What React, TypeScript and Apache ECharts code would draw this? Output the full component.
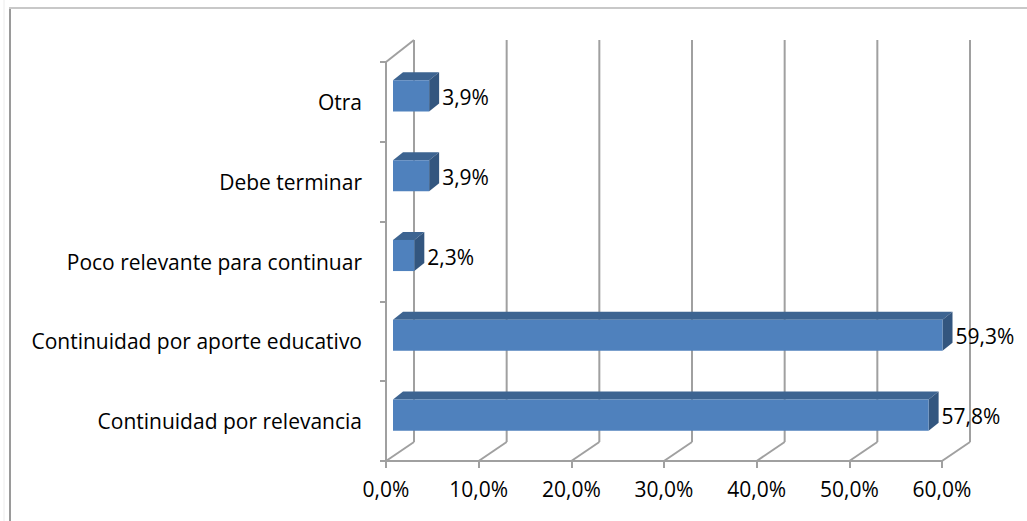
import React, { useEffect, useRef } from "react";
import * as echarts from "echarts";

const categories = [
  "Continuidad por relevancia",
  "Continuidad por aporte educativo",
  "Poco relevante para continuar",
  "Debe terminar",
  "Otra",
];
const values = [57.8, 59.3, 2.3, 3.9, 3.9];
const xTicks = [0, 10, 20, 30, 40, 50, 60];

const fmt = (v: number) => v.toFixed(1).replace(".", ",") + "%";

export default function App() {
  const ref = useRef<HTMLDivElement>(null);
  useEffect(() => {
    document.body.style.margin = "0";
    const chart = echarts.init(ref.current!, undefined, { renderer: "svg" });
    const FONT = "Open Sans";
    const FS = 21;
    const GRID = "#a0a0a0";
    const DX = 28;
    const DY_FLOOR = -19;
    const DY_TOP = -22;
    const BD = 10;
    const BDY = -8;

    chart.setOption({
      animation: false,
      backgroundColor: "#ffffff",
      grid: { left: 386, right: 85, top: 62, bottom: 60 },
      graphic: [
        { type: "line", shape: { x1: 4, y1: 0, x2: 4, y2: 521 }, style: { stroke: "#ececec", lineWidth: 1 } },
        { type: "line", shape: { x1: 10, y1: 7, x2: 10, y2: 521 }, style: { stroke: "#9a9a9a", lineWidth: 2 } },
        { type: "line", shape: { x1: 9, y1: 8, x2: 1027, y2: 8 }, style: { stroke: "#c8c8c8", lineWidth: 2 } },
      ],
      xAxis: {
        type: "value",
        min: 0,
        max: 60,
        interval: 10,
        axisLine: { show: true, lineStyle: { color: GRID, width: 2 } },
        axisTick: { show: true, length: 7, lineStyle: { color: GRID, width: 2 } },
        splitLine: { show: false },
        axisLabel: {
          formatter: (v: number) => fmt(v),
          color: "#000",
          fontSize: FS,
          fontFamily: FONT,
          margin: 17,
        },
      },
      yAxis: {
        type: "category",
        data: categories,
        axisLine: { show: true, lineStyle: { color: GRID, width: 2 } },
        axisTick: { show: true, length: 6, lineStyle: { color: GRID, width: 2 } },
        splitLine: { show: false },
        axisLabel: { color: "#000", fontSize: FS, fontFamily: FONT, margin: 24 },
      },
      series: [
        {
          type: "custom",
          silent: true,
          z: 1,
          encode: { x: 0, y: 1 },
          data: xTicks.map((v) => [v, 0]),
          renderItem: (params: any, api: any) => {
            const v = api.value(0);
            const cs = params.coordSys;
            const x = api.coord([v, 0])[0];
            const yb = cs.y + cs.height;
            const yt = cs.y;
            const st = { stroke: GRID, lineWidth: 2 };
            const children: any[] = [
              { type: "line", shape: { x1: x, y1: yb, x2: x + DX, y2: yb + DY_FLOOR }, style: st },
              { type: "line", shape: { x1: x + DX, y1: yb + DY_FLOOR, x2: x + DX, y2: yt + DY_TOP }, style: st },
            ];
            if (v === 0) {
              children.push({ type: "line", shape: { x1: x, y1: yt, x2: x + DX, y2: yt + DY_TOP }, style: st });
            }
            return { type: "group", children };
          },
        },
        {
          type: "custom",
          z: 3,
          encode: { x: 0, y: 1 },
          data: values.map((v, i) => [v, i]),
          renderItem: (params: any, api: any) => {
            const v = api.value(0);
            const i = api.value(1);
            const s = api.coord([0, i]);
            const e = api.coord([v, i]);
            const band = api.size([0, 1])[1];
            const h = band * 0.39;
            const yc = s[1] - 6;
            const x0 = s[0] + 7;
            const x1 = e[0] + 7;
            const yt = yc - h / 2;
            const yb = yc + h / 2;
            return {
              type: "group",
              children: [
                {
                  type: "polygon",
                  shape: { points: [[x0, yt], [x0 + BD, yt + BDY], [x1 + BD, yt + BDY], [x1, yt]] },
                  style: { fill: "#3d6491" },
                },
                {
                  type: "polygon",
                  shape: { points: [[x1, yt], [x1 + BD, yt + BDY], [x1 + BD, yb + BDY], [x1, yb]] },
                  style: { fill: "#33567f" },
                },
                {
                  type: "rect",
                  shape: { x: x0, y: yt, width: x1 - x0, height: h },
                  style: { fill: "#4f81bd" },
                },
                {
                  type: "text",
                  style: {
                    text: fmt(v),
                    x: x1 + BD + 3,
                    y: yc + 1,
                    align: "left",
                    verticalAlign: "middle",
                    fill: "#000",
                    fontSize: FS,
                    fontFamily: FONT,
                  },
                },
              ],
            };
          },
        },
      ],
    });
    return () => chart.dispose();
  }, []);
  return <div ref={ref} style={{ width: 1027, height: 521 }} />;
}
